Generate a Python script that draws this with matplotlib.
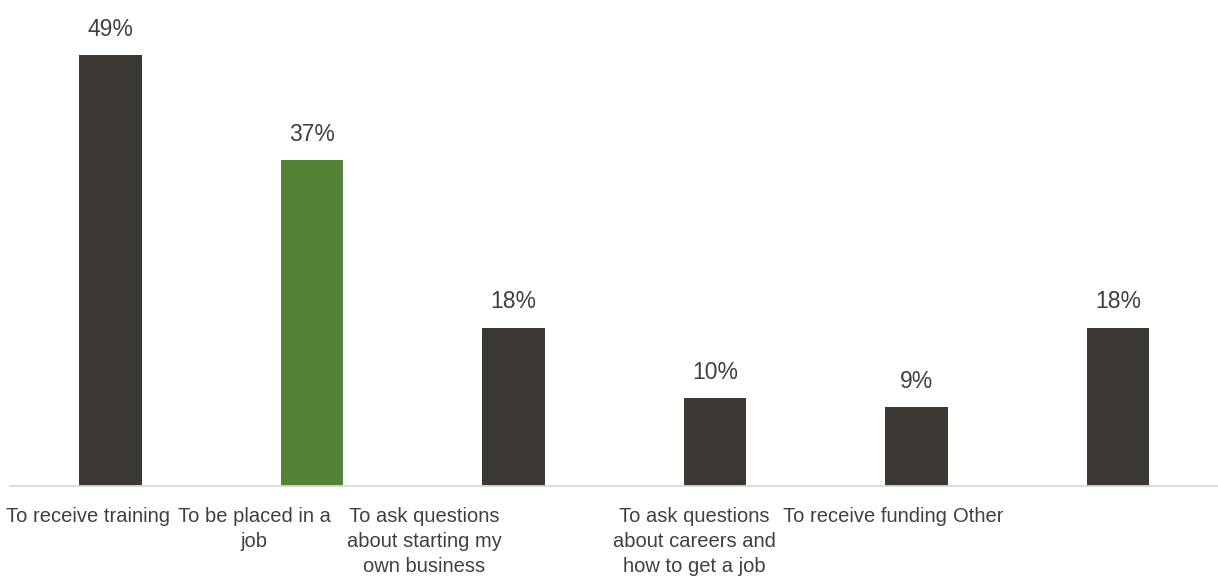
import matplotlib
matplotlib.use("Agg")
import matplotlib.pyplot as plt
from matplotlib.transforms import blended_transform_factory

categories = [
    "To receive training",
    "To be placed in a\njob",
    "To ask questions\nabout starting my\nown business",
    "To ask questions\nabout careers and\nhow to get a job",
    "To receive funding",
    "Other",
]
values = [49, 37, 18, 10, 9, 18]
bar_colors = ["#3B3833", "#548235", "#3B3833", "#3B3833", "#3B3833", "#3B3833"]
label_offsets = [-0.114, -0.288, -0.442, -0.104, -0.258, -0.695]

plt.rcParams["font.family"] = ["Liberation Sans", "DejaVu Sans"]

W, H = 1218, 582
fig = plt.figure(figsize=(W / 100, H / 100), dpi=100)
ax = fig.add_axes([9.75 / W, (H - 486) / H, 1209 / W, 486 / H])

x = list(range(len(categories)))
ax.bar(x, values, width=0.31, color=bar_colors, zorder=2)
ax.set_xlim(-0.5, len(categories) - 0.5)
ax.set_ylim(0, 486 / 8.8)

for xi, v in zip(x, values):
    ax.annotate(f"{v}%", (xi, v), xytext=(0, 18.5), textcoords="offset points",
                ha="center", va="center", fontsize=16.5, color="#404040")

for s in ["top", "right", "left"]:
    ax.spines[s].set_visible(False)
ax.spines["bottom"].set_color("#D9D9D9")
ax.spines["bottom"].set_linewidth(1.3)
ax.set_yticks([])
ax.set_xticks([])

trans = blended_transform_factory(ax.transData, ax.transAxes)
for xi, lab, off in zip(x, categories, label_offsets):
    ax.text(xi + off, -0.043, lab, transform=trans, ha="center", va="top",
            fontsize=14.5, color="#404040", linespacing=1.42)

fig.savefig("out.png", dpi=100)
